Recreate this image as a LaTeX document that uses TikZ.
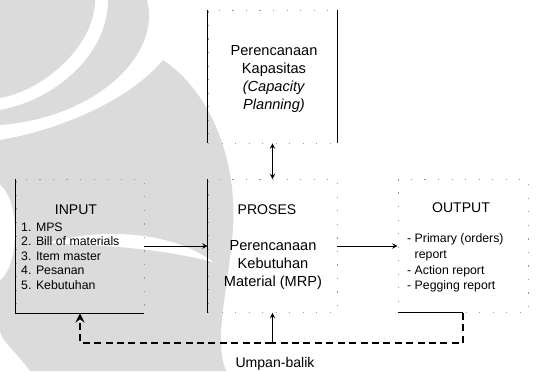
\documentclass[tikz,border=0pt]{standalone}
\usepackage{fontspec}
\setmainfont{Liberation Sans}
\usetikzlibrary{arrows}
\definecolor{tanda}{gray}{0.86}
\tikzstyle{kotak} = [rectangle, minimum width=2.58cm, minimum height=2.66cm, draw=black!40, dash pattern=on 0.7pt off 7pt, thin]
\tikzstyle{judul} = [font=\fontsize{8}{9.6}\selectfont]
\tikzstyle{isi} = [font=\fontsize{8.3}{10.2}\selectfont, align=center]
\tikzstyle{daftar} = [font=\fontsize{7}{8.2}\selectfont, align=left, anchor=west]
\tikzstyle{garis} = [line width=0.8pt]
\tikzstyle{arrow} = [thin,->,>=stealth]
\tikzstyle{umpan} = [dashed, dash pattern=on 4pt off 2.5pt, line width=0.6pt]

\begin{document}
\begin{tikzpicture}[x=0.02cm, y=-0.02cm]
\useasboundingbox (0,0) rectangle (536,371);
% watermark in the background
\fill[tanda] (0,0) -- (95,0) .. controls (95,45) and (45,90) .. (0,98) -- cycle;
\fill[tanda] (108,0) -- (147,0) .. controls (162,55) and (95,118) .. (0,125) -- (0,110) .. controls (55,100) and (108,55) .. (108,0) -- cycle;
\fill[tanda] (0,140) .. controls (60,130) and (130,100) .. (163,60) .. controls (215,95) and (240,170) .. (232,240) .. controls (226,300) and (214,340) .. (226,371) -- (30,371) .. controls (15,350) and (0,340) .. (0,330) -- cycle;
\fill[white] (45,243) .. controls (100,228) and (170,230) .. (213,262) .. controls (160,248) and (100,245) .. (45,243) -- cycle;
\fill[white] (0,185) .. controls (20,200) and (20,265) .. (0,280) -- cycle;

% boxes
\node (cap) [kotak] at (272.5,76.5) {};
\node (proses) [kotak] at (272.5,246) {};
\node (inp) [kotak, minimum width=2.56cm, minimum height=2.68cm] at (80,246) {};
\node (out) [kotak, minimum width=2.6cm] at (463,246) {};

\draw [garis] (cap.north west) -- (cap.south west);
\draw [garis] (cap.north east) -- (cap.south east);
\draw [garis] (proses.north west) -- (proses.south west);
\draw [garis] (inp.north west) -- (inp.south west) -- (inp.south east);
\draw [thin] (out.south west) -- (out.south);

% texts
\node (capteks) [isi] at (274,79) {Perencanaan\\Kapasitas\\\textit{(Capacity}\\\textit{Planning)}};
\node (prosesjudul) [judul] at (267,210) {PROSES};
\node (mrp) [isi] at (273,265) {Perencanaan\\Kebutuhan\\Material (MRP)};
\node (inpjudul) [judul] at (76,210) {INPUT};
\node (inpdaftar) [daftar] at (15,256) {1. MPS\\2. Bill of materials\\3. Item master\\4. Pesanan\\5. Kebutuhan};
\node (outjudul) [judul] at (461,208) {OUTPUT};
\node (outdaftar) [daftar, font=\fontsize{7}{9}\selectfont] at (401,263) {- Primary (orders)\\\phantom{- }report\\- Action report\\- Pegging report};

% connectors
\draw [arrow] (inp) -- (proses);
\draw [arrow] (proses) -- (out);
\draw [arrow, <->] (cap) -- (proses);

\coordinate (ub) at (272.5,343);
\draw [umpan] (out.south) |- (ub);
\draw [umpan, line width=1.3pt, ->, >=stealth] (ub) -| (inp.south);
\draw [arrow] (ub) -- (proses.south);
\node (ublabel) [judul] at (275,364) {Umpan-balik};
\end{tikzpicture}
\end{document}
